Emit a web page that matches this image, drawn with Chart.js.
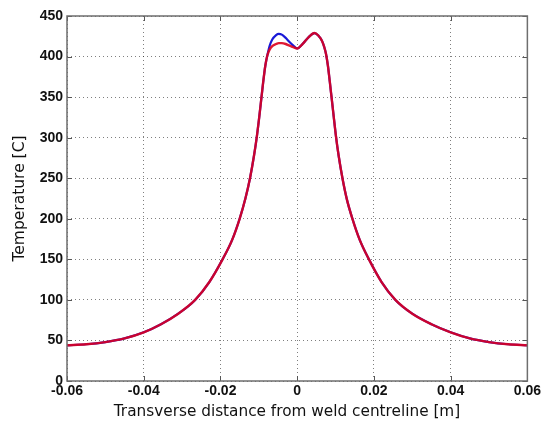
<!DOCTYPE html>
<html>
<head>
<meta charset="utf-8">
<script src="https://cdn.jsdelivr.net/npm/chart.js@4/dist/chart.umd.min.js"></script>
<style>
  html, body { margin: 0; padding: 0; background: #fff; }
  #wrap { width: 543px; height: 427px; position: relative; }
</style>
</head>
<body>
<div id="wrap"><canvas id="c" width="543" height="427"></canvas></div>
<script>
// ---- data ----
const xPositions = [
  -0.06,-0.055,-0.05,-0.045,-0.04,-0.0355,-0.031,-0.0266,-0.0229,-0.01945,-0.01695,-0.015,-0.0135,-0.0123,-0.01125,-0.0105,-0.0099,-0.00935,-0.00885,-0.0083,-0.0078,-0.0072,-0.0065,-0.0055,-0.0048,-0.004,-0.003,-0.002,-0.001,
  0,0.0015,0.003,0.0045,0.0055,0.0065,0.007,0.0075,0.008,0.0085,0.009,0.0095,0.0101,0.0108,0.0118,0.013,0.0144,0.0163,0.0187,0.022,0.0256,0.03,0.035,0.04,0.045,0.05,0.055,0.06];
const redTemps = [
  44,45.3,48,52.5,60,70,83,100,122,150,174,200,225,250,278,302,325,348,369,389,401,408.5,413,415.5,416.5,416.5,415.5,413.5,411.5,
  410,416,424,429,426,419,412.5,403.5,389,369,348,327,302,278,250,223,200,174,150,122,100,83,70,60,52.5,48,45.3,44];
const blueTemps = [
  44,45.3,48,52.5,60,70,83,100,122,150,174,200,225,250,278,302,325,348,369,389,401,413,421,426.5,428,427,423,418,413.5,
  410,416,424,429,426,419,412.5,403.5,389,369,348,327,302,278,250,223,200,174,150,122,100,83,70,60,52.5,48,45.3,44];
const xTickLabels = ['-0.06','-0.04','-0.02','0','0.02','0.04','0.06'];
const yTickLabels = ['0','50','100','150','200','250','300','350','400','450'];
const xTitle = 'Transverse distance from weld centreline [m]';
const yTitle = 'Temperature [C]';

const toPts = (ys) => xPositions.map((x, i) => ({ x: x, y: ys[i] }));

const boxPlugin = {
  id: 'box',
  afterDatasetsDraw(chart) {
    const { ctx, chartArea: a, scales } = chart;
    ctx.save();
    ctx.strokeStyle = '#555';
    ctx.lineWidth = 1;
    ctx.beginPath();
    scales.x.ticks.forEach(t => {
      const px = Math.round(scales.x.getPixelForValue(t.value)) + 0.5;
      ctx.moveTo(px, a.bottom); ctx.lineTo(px, a.bottom - 5);
      ctx.moveTo(px, a.top); ctx.lineTo(px, a.top + 5);
    });
    scales.y.ticks.forEach(t => {
      const py = Math.round(scales.y.getPixelForValue(t.value)) + 0.5;
      ctx.moveTo(a.left, py); ctx.lineTo(a.left + 5, py);
      ctx.moveTo(a.right, py); ctx.lineTo(a.right - 5, py);
    });
    ctx.stroke();
    ctx.strokeStyle = '#6e6e6e';
    ctx.lineWidth = 1.5;
    ctx.strokeRect(a.left, a.top, a.right - a.left, a.bottom - a.top);
    // x-axis title (slightly left of the axis centre, as in the original)
    ctx.fillStyle = '#111';
    ctx.font = '15.3px "DejaVu Sans"';
    ctx.textAlign = 'center';
    ctx.textBaseline = 'middle';
    ctx.fillText(xTitle, 287, 412);
    ctx.restore();
  }
};

new Chart(document.getElementById('c'), {
  type: 'scatter',
  data: {
    datasets: [
      { data: toPts(redTemps),  showLine: true, borderColor: 'rgba(220,0,30,0.9)', borderWidth: 2.4, pointRadius: 0, cubicInterpolationMode: 'monotone', fill: false },
      { data: toPts(blueTemps), showLine: true, borderColor: 'rgb(25,25,215)', borderWidth: 2.2, pointRadius: 0, cubicInterpolationMode: 'monotone', fill: false }
    ]
  },
  plugins: [boxPlugin],
  options: {
    responsive: false,
    animation: false,
    layout: { padding: { left: 0, right: 14, top: 16, bottom: 0 } },
    plugins: { legend: { display: false }, tooltip: { enabled: false } },
    scales: {
      x: {
        type: 'linear', min: -0.06, max: 0.06,
        afterBuildTicks(s) { s.ticks = xTickLabels.map(v => ({ value: parseFloat(v) })); },
        afterFit(s) { s.height = 46; },
        ticks: {
          callback: (v) => xTickLabels.find(l => Math.abs(parseFloat(l) - v) < 1e-9),
          color: '#111', font: { family: 'Liberation Sans, Arial', size: 14, weight: 'bold' },
          padding: 2, maxRotation: 0, autoSkip: false
        },
        grid: { color: 'rgba(0,0,0,0.5)', lineWidth: 1, drawTicks: false, tickLength: 0 },
        border: { display: false, dash: [1, 3] },
        title: { display: false }
      },
      y: {
        type: 'linear', min: 0, max: 450,
        afterBuildTicks(s) { s.ticks = yTickLabels.map(v => ({ value: parseFloat(v) })); },
        afterFit(s) { s.width = 67; },
        ticks: {
          callback: (v) => String(v),
          color: '#111', font: { family: 'Liberation Sans, Arial', size: 14, weight: 'bold' },
          padding: 4, autoSkip: false
        },
        grid: { color: 'rgba(0,0,0,0.5)', lineWidth: 1, drawTicks: false, tickLength: 0 },
        border: { display: false, dash: [1, 3] },
        title: { display: true, text: yTitle, color: '#111', font: { family: 'DejaVu Sans', size: 15.5 }, padding: { top: 11, bottom: 0 } }
      }
    }
  }
});
</script>
</body>
</html>
